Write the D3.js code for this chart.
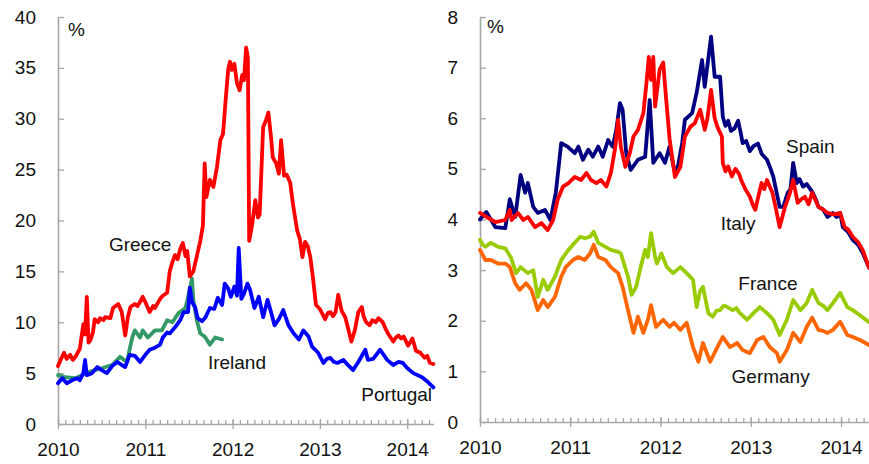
<!DOCTYPE html>
<html>
<head>
<meta charset="utf-8">
<script src="https://cdn.jsdelivr.net/npm/d3@7"></script>
<style>
  html, body { margin: 0; padding: 0; background: #fff; }
  svg { display: block; font-family: "Liberation Sans", Arial, sans-serif; }
</style>
</head>
<body>
<svg id="chart" width="869" height="464"></svg>
<script>
// ---------------- DATA (decimal year, yield %) ----------------
const yearTicks = [2010, 2011, 2012, 2013, 2014];
const leftYTicks = [0, 5, 10, 15, 20, 25, 30, 35, 40];
const rightYTicks = [0, 1, 2, 3, 4, 5, 6, 7, 8];
const unitLabel = "%";

const greece = [[2010.00,5.7],[2010.03,6.3],[2010.07,7.0],[2010.10,6.4],[2010.14,6.8],[2010.17,6.3],[2010.20,6.6],[2010.25,7.4],[2010.29,9.8],[2010.31,8.8],[2010.33,12.5],[2010.35,8.0],[2010.37,8.2],[2010.40,9.0],[2010.42,10.3],[2010.46,10.0],[2010.48,10.4],[2010.52,10.2],[2010.54,10.5],[2010.60,10.4],[2010.63,11.4],[2010.69,11.8],[2010.73,11.0],[2010.77,8.7],[2010.80,10.5],[2010.83,11.5],[2010.88,11.8],[2010.91,11.6],[2010.94,12.0],[2010.97,12.5],[2011.01,11.8],[2011.05,11.0],[2011.09,11.6],[2011.11,11.4],[2011.17,12.3],[2011.20,12.6],[2011.25,12.9],[2011.28,15.0],[2011.31,15.9],[2011.34,16.6],[2011.37,16.2],[2011.40,17.2],[2011.43,17.8],[2011.46,16.5],[2011.48,17.0],[2011.51,14.5],[2011.55,15.0],[2011.59,16.5],[2011.63,18.0],[2011.66,19.5],[2011.68,25.6],[2011.70,22.3],[2011.74,24.0],[2011.78,23.3],[2011.82,25.2],[2011.86,27.9],[2011.89,28.5],[2011.92,31.8],[2011.95,34.9],[2011.97,35.6],[2011.99,34.8],[2012.02,35.4],[2012.05,33.5],[2012.08,32.8],[2012.11,34.3],[2012.13,33.8],[2012.155,37.0],[2012.175,36.0],[2012.19,18.0],[2012.22,19.4],[2012.26,22.0],[2012.29,20.3],[2012.31,20.6],[2012.35,29.2],[2012.38,29.8],[2012.41,30.6],[2012.44,28.2],[2012.46,26.2],[2012.50,25.6],[2012.53,24.6],[2012.555,27.9],[2012.59,24.4],[2012.62,24.5],[2012.66,23.7],[2012.69,21.7],[2012.74,19.0],[2012.77,18.2],[2012.80,16.4],[2012.83,17.9],[2012.86,17.5],[2012.89,16.4],[2012.92,14.4],[2012.955,11.7],[2013.00,11.3],[2013.03,10.8],[2013.06,10.3],[2013.09,10.9],[2013.12,11.0],[2013.15,10.6],[2013.18,11.0],[2013.21,12.7],[2013.25,11.1],[2013.29,10.5],[2013.32,9.5],[2013.36,8.1],[2013.40,9.2],[2013.44,11.0],[2013.48,11.5],[2013.50,10.6],[2013.53,10.0],[2013.57,9.7],[2013.60,10.2],[2013.64,10.0],[2013.67,10.4],[2013.72,10.0],[2013.75,9.4],[2013.78,8.9],[2013.81,8.5],[2013.84,8.1],[2013.87,8.5],[2013.90,8.7],[2013.93,8.4],[2013.96,8.6],[2014.01,7.7],[2014.06,8.4],[2014.10,7.2],[2014.15,7.0],[2014.20,6.5],[2014.23,6.7],[2014.26,6.0],[2014.30,5.9]];

const portugal = [[2010.00,4.0],[2010.05,4.5],[2010.10,4.0],[2010.16,4.3],[2010.22,4.5],[2010.25,4.3],[2010.29,5.0],[2010.31,6.3],[2010.33,4.8],[2010.39,5.0],[2010.45,5.6],[2010.50,5.3],[2010.56,5.0],[2010.62,5.7],[2010.68,6.1],[2010.73,5.8],[2010.77,5.6],[2010.82,6.8],[2010.88,6.7],[2010.94,6.1],[2011.00,6.8],[2011.05,7.3],[2011.11,7.5],[2011.17,7.8],[2011.20,8.5],[2011.25,9.0],[2011.28,8.9],[2011.34,9.5],[2011.40,10.2],[2011.44,11.0],[2011.49,11.0],[2011.51,13.4],[2011.535,12.0],[2011.57,11.5],[2011.60,10.4],[2011.65,10.1],[2011.69,10.5],[2011.74,11.4],[2011.79,11.3],[2011.83,12.4],[2011.88,11.7],[2011.91,13.8],[2011.95,13.3],[2011.98,12.5],[2012.02,13.5],[2012.05,12.6],[2012.07,17.3],[2012.10,12.3],[2012.13,12.8],[2012.17,13.8],[2012.20,13.2],[2012.25,11.4],[2012.30,12.5],[2012.35,10.5],[2012.40,12.2],[2012.44,11.0],[2012.48,9.7],[2012.53,10.3],[2012.58,11.2],[2012.64,9.7],[2012.70,8.9],[2012.76,8.3],[2012.81,9.2],[2012.87,8.6],[2012.91,7.6],[2012.98,7.0],[2013.04,6.0],[2013.08,6.4],[2013.12,6.5],[2013.16,6.1],[2013.20,6.0],[2013.27,6.3],[2013.32,5.8],[2013.38,5.3],[2013.44,6.1],[2013.52,7.3],[2013.55,6.3],[2013.61,6.4],[2013.69,7.3],[2013.77,6.3],[2013.84,5.8],[2013.90,6.1],[2013.95,6.0],[2014.00,5.5],[2014.07,5.0],[2014.17,4.6],[2014.24,4.1],[2014.30,3.6]];

const ireland = [[2010.00,4.8],[2010.08,4.6],[2010.20,4.5],[2010.35,5.1],[2010.51,5.5],[2010.62,5.8],[2010.71,6.6],[2010.79,6.1],[2010.85,8.5],[2010.88,9.2],[2010.94,8.5],[2010.97,9.2],[2011.03,8.5],[2011.11,9.2],[2011.19,9.2],[2011.25,10.2],[2011.31,10.0],[2011.38,10.9],[2011.46,11.4],[2011.49,12.5],[2011.535,14.3],[2011.55,12.2],[2011.59,10.2],[2011.63,8.9],[2011.68,8.6],[2011.74,7.8],[2011.80,8.5],[2011.88,8.3]];

const spain = [[2010.00,4.0],[2010.07,4.15],[2010.17,3.85],[2010.28,3.83],[2010.33,4.4],[2010.39,4.05],[2010.45,4.88],[2010.50,4.53],[2010.53,4.72],[2010.59,4.25],[2010.64,4.13],[2010.72,4.19],[2010.78,3.99],[2010.84,4.53],[2010.90,5.51],[2010.97,5.44],[2011.05,5.31],[2011.09,5.44],[2011.14,5.18],[2011.20,5.38],[2011.25,5.24],[2011.31,5.44],[2011.36,5.24],[2011.42,5.57],[2011.47,5.44],[2011.51,5.77],[2011.55,6.30],[2011.58,6.17],[2011.62,5.31],[2011.67,4.98],[2011.75,5.18],[2011.83,5.24],[2011.88,6.36],[2011.92,5.12],[2011.99,5.31],[2012.05,5.12],[2012.10,5.44],[2012.16,4.92],[2012.18,4.92],[2012.24,5.51],[2012.27,5.97],[2012.35,6.10],[2012.40,6.50],[2012.46,7.15],[2012.49,6.62],[2012.56,7.61],[2012.60,6.82],[2012.66,6.82],[2012.69,6.03],[2012.72,5.85],[2012.75,5.95],[2012.78,5.75],[2012.82,5.8],[2012.86,5.95],[2012.89,5.7],[2012.91,5.51],[2012.95,5.55],[2012.99,5.35],[2013.03,5.45],[2013.08,5.5],[2013.12,5.3],[2013.18,5.18],[2013.22,5.0],[2013.25,4.84],[2013.29,4.5],[2013.32,4.25],[2013.36,4.25],[2013.41,4.53],[2013.44,4.6],[2013.47,5.12],[2013.51,4.72],[2013.54,4.8],[2013.58,4.65],[2013.62,4.7],[2013.68,4.55],[2013.72,4.4],[2013.75,4.25],[2013.80,4.2],[2013.85,4.05],[2013.91,4.13],[2013.95,4.05],[2013.99,4.13],[2014.02,3.85],[2014.08,3.75],[2014.13,3.6],[2014.19,3.5],[2014.24,3.34],[2014.31,3.05]];

const italy = [[2010.00,4.13],[2010.09,4.03],[2010.17,3.95],[2010.28,3.99],[2010.33,4.19],[2010.35,3.99],[2010.42,4.13],[2010.48,3.99],[2010.53,4.05],[2010.61,3.85],[2010.68,3.93],[2010.75,3.79],[2010.81,3.99],[2010.86,4.39],[2010.92,4.65],[2010.98,4.72],[2011.05,4.84],[2011.12,4.78],[2011.18,4.92],[2011.23,4.78],[2011.29,4.72],[2011.34,4.78],[2011.40,4.65],[2011.45,4.92],[2011.50,5.44],[2011.53,5.97],[2011.56,5.44],[2011.61,5.04],[2011.66,5.31],[2011.70,5.64],[2011.75,5.77],[2011.81,6.10],[2011.84,6.62],[2011.87,7.21],[2011.895,6.76],[2011.92,7.21],[2011.94,6.23],[2011.99,6.96],[2012.03,7.1],[2012.06,6.43],[2012.10,5.6],[2012.16,4.84],[2012.22,5.04],[2012.27,5.64],[2012.33,5.83],[2012.38,5.9],[2012.44,6.17],[2012.49,5.77],[2012.52,6.0],[2012.56,6.56],[2012.60,6.0],[2012.63,5.83],[2012.68,5.64],[2012.69,5.12],[2012.72,4.95],[2012.75,5.05],[2012.79,4.85],[2012.83,5.0],[2012.87,4.9],[2012.90,4.75],[2012.94,4.6],[2012.99,4.45],[2013.02,4.3],[2013.05,4.19],[2013.09,4.5],[2013.12,4.72],[2013.15,4.6],[2013.18,4.78],[2013.21,4.65],[2013.24,4.53],[2013.28,4.2],[2013.32,3.85],[2013.38,4.25],[2013.43,4.5],[2013.47,4.78],[2013.52,4.33],[2013.56,4.4],[2013.60,4.45],[2013.64,4.3],[2013.68,4.53],[2013.75,4.25],[2013.80,4.2],[2013.85,4.13],[2013.92,4.1],[2013.99,4.13],[2014.04,3.85],[2014.08,3.8],[2014.13,3.66],[2014.19,3.55],[2014.24,3.4],[2014.31,3.05]];

const france = [[2010.00,3.6],[2010.03,3.5],[2010.06,3.46],[2010.12,3.54],[2010.20,3.46],[2010.28,3.43],[2010.34,3.26],[2010.40,2.94],[2010.45,3.06],[2010.53,2.94],[2010.59,3.0],[2010.64,2.47],[2010.70,2.81],[2010.75,2.61],[2010.83,2.87],[2010.90,3.2],[2010.98,3.40],[2011.05,3.54],[2011.11,3.66],[2011.16,3.63],[2011.22,3.66],[2011.26,3.76],[2011.31,3.54],[2011.39,3.46],[2011.45,3.40],[2011.53,3.36],[2011.56,3.33],[2011.64,2.87],[2011.68,2.51],[2011.73,2.67],[2011.78,3.06],[2011.83,3.40],[2011.86,3.26],[2011.895,3.73],[2011.94,3.26],[2011.96,3.13],[2012.01,3.33],[2012.07,3.06],[2012.14,2.94],[2012.22,3.06],[2012.29,2.94],[2012.36,2.81],[2012.40,2.27],[2012.44,2.6],[2012.47,2.67],[2012.53,2.15],[2012.58,2.08],[2012.62,2.2],[2012.66,2.21],[2012.70,2.3],[2012.74,2.27],[2012.80,2.21],[2012.84,2.25],[2012.88,2.15],[2012.96,2.02],[2013.03,2.15],[2013.10,2.27],[2013.18,2.15],[2013.25,2.02],[2013.32,1.72],[2013.40,2.02],[2013.47,2.41],[2013.55,2.21],[2013.62,2.35],[2013.68,2.61],[2013.75,2.35],[2013.80,2.3],[2013.85,2.21],[2013.91,2.35],[2013.99,2.55],[2014.07,2.27],[2014.13,2.21],[2014.21,2.11],[2014.31,1.97]];

const germany = [[2010.00,3.40],[2010.03,3.3],[2010.06,3.2],[2010.12,3.2],[2010.20,3.13],[2010.28,3.13],[2010.33,3.06],[2010.39,2.74],[2010.44,2.61],[2010.51,2.74],[2010.57,2.61],[2010.64,2.21],[2010.70,2.41],[2010.75,2.27],[2010.83,2.47],[2010.90,2.87],[2010.95,3.06],[2011.03,3.2],[2011.09,3.26],[2011.16,3.2],[2011.22,3.33],[2011.26,3.50],[2011.31,3.26],[2011.39,3.2],[2011.45,3.06],[2011.53,2.94],[2011.58,2.67],[2011.64,2.21],[2011.70,1.76],[2011.75,2.08],[2011.81,1.76],[2011.86,2.02],[2011.895,2.31],[2011.95,1.88],[2012.03,2.02],[2012.10,1.88],[2012.15,1.96],[2012.22,1.82],[2012.29,1.96],[2012.36,1.48],[2012.42,1.19],[2012.47,1.56],[2012.55,1.19],[2012.63,1.48],[2012.69,1.68],[2012.77,1.48],[2012.85,1.56],[2012.91,1.42],[2012.99,1.36],[2013.07,1.62],[2013.14,1.68],[2013.21,1.48],[2013.29,1.36],[2013.32,1.19],[2013.40,1.42],[2013.47,1.76],[2013.55,1.58],[2013.62,1.88],[2013.68,2.06],[2013.75,1.82],[2013.80,1.8],[2013.85,1.76],[2013.91,1.82],[2013.99,1.98],[2014.07,1.72],[2014.13,1.68],[2014.21,1.62],[2014.31,1.52]];

const leftSeries = [
  { name: "Ireland",  data: ireland,  color: "#339966" },
  { name: "Portugal", data: portugal, color: "#0000ff" },
  { name: "Greece",   data: greece,   color: "#ff0000" }
];
const rightSeries = [
  { name: "Germany", data: germany, color: "#ff6600" },
  { name: "France",  data: france,  color: "#99cc00" },
  { name: "Spain",   data: spain,   color: "#000080" },
  { name: "Italy",   data: italy,   color: "#ff0000" }
];
// series labels: [name, decimal year, value] anchor points for text
const leftLabels  = [["Greece", 2010.94, 17.0], ["Ireland", 2012.05, 5.4], ["Portugal", 2013.88, 2.3]];
const rightLabels = [["Spain", 2013.66, 5.32], ["Italy", 2012.86, 3.79], ["France", 2013.19, 2.6], ["Germany", 2013.22, 0.78]];

// ---------------- DRAWING ----------------
const svg = d3.select("#chart");
const FONT = 19;
const axisColor = "#a6a6a6";

function drawPanel(cfg) {
  const x = d3.scaleLinear().domain(cfg.xDomain).range(cfg.xRange);
  const y = d3.scaleLinear().domain(cfg.yDomain).range(cfg.yRange);
  const g = svg.append("g");

  const ya = g.append("g").attr("transform", `translate(${cfg.xRange[0]},0)`)
    .call(d3.axisLeft(y).tickValues(cfg.yTicks).tickSizeInner(-6).tickSizeOuter(0).tickPadding(22));
  const months = d3.range(0, Math.floor((cfg.xDomain[1] - cfg.xDomain[0]) * 12 + 1e-6) + 1).map(i => cfg.xDomain[0] + i / 12);
  const xm = g.append("g").attr("transform", `translate(0,${cfg.yRange[0]})`)
    .call(d3.axisBottom(x).tickValues(months).tickSizeInner(-4).tickSizeOuter(0).tickFormat(""));
  const xa = g.append("g").attr("transform", `translate(0,${cfg.yRange[0]})`)
    .call(d3.axisBottom(x).tickValues(yearTicks).tickSizeInner(5).tickSizeOuter(0).tickPadding(14).tickFormat(d3.format("d")));
  xa.selectAll(".tick").append("line").attr("y1", 0).attr("y2", -5);

  [ya, xm, xa].forEach(a => {
    a.selectAll("path.domain").attr("stroke", axisColor).attr("stroke-width", 1.6);
    a.selectAll(".tick line").attr("stroke", axisColor).attr("stroke-width", 1.3);
    a.selectAll(".tick text").attr("fill", "#111").style("font-size", FONT + "px")
      .style("font-family", '"Liberation Sans", Arial, sans-serif');
  });
  xm.select("path.domain").attr("stroke", "none");

  g.append("text").attr("x", cfg.xRange[0] + cfg.unitDx).attr("y", cfg.unitY)
    .attr("fill", "#111").style("font-size", FONT + "px").text(unitLabel);

  const line = d3.line().x(d => x(d[0])).y(d => y(d[1]));
  cfg.series.forEach(s => {
    g.append("path").datum(s.data).attr("d", line)
      .attr("fill", "none").attr("stroke", s.color).attr("stroke-width", 3.8)
      .attr("stroke-linejoin", "round").attr("stroke-linecap", "round");
  });

  cfg.labels.forEach(([name, t, v]) => {
    g.append("text").attr("x", x(t)).attr("y", y(v)).attr("text-anchor", "middle")
      .attr("fill", "#111").style("font-size", FONT + "px").text(name);
  });
}

drawPanel({
  xDomain: [2010, 2014.3], xRange: [58, 433.4],
  yDomain: [0, 40], yRange: [424, 17], yTicks: leftYTicks,
  series: leftSeries, labels: leftLabels, unitDx: 10, unitY: 36
});
drawPanel({
  xDomain: [2010, 2014.31], xRange: [480, 869],
  yDomain: [0, 8], yRange: [422, 17], yTicks: rightYTicks,
  series: rightSeries, labels: rightLabels, unitDx: 7, unitY: 33
});
</script>
</body>
</html>
